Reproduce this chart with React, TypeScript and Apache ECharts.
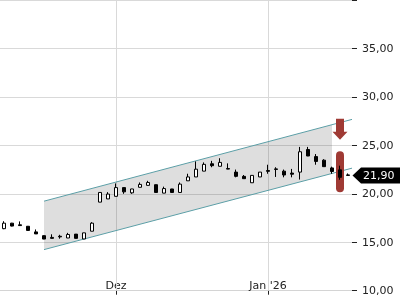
import React, { useEffect, useRef } from "react";
import * as echarts from "echarts";

const dates = [
  "2025-11-11", "2025-11-12", "2025-11-13", "2025-11-14", "2025-11-17", "2025-11-18", "2025-11-19",
  "2025-11-20", "2025-11-21", "2025-11-24", "2025-11-25", "2025-11-26", "2025-11-27", "2025-11-28",
  "2025-12-01", "2025-12-02", "2025-12-03", "2025-12-04", "2025-12-05", "2025-12-08", "2025-12-09",
  "2025-12-10", "2025-12-11", "2025-12-12", "2025-12-15", "2025-12-16", "2025-12-17", "2025-12-18",
  "2025-12-19", "2025-12-22", "2025-12-23", "2025-12-29", "2025-12-30", "2026-01-02", "2026-01-05",
  "2026-01-06", "2026-01-07", "2026-01-08", "2026-01-09", "2026-01-12", "2026-01-13", "2026-01-14",
  "2026-01-15", "2026-01-16",
];

const tickLabels: Record<string, string> = { "2025-12-01": "Dez", "2026-01-02": "Jan '26" };

const opens = [
  16.4, 16.97, 16.8, 16.65, 16.07, 15.68, 15.5, 15.62, 15.44, 15.84, 15.34, 16.14, 19.14, 19.47,
  19.74, 20.64, 20.1, 20.67, 20.87, 20.94, 20.07, 20.5, 20.14, 21.34, 21.74, 22.34, 23.1, 22.84,
  22.6, 22.24, 21.8, 21.14, 21.74, 22.4, 22.57, 22.34, 22.14, 22.24, 24.57, 23.84, 23.47, 22.67,
  22.47, 21.95,
];
const closes = [
  16.97, 16.67, 16.72, 16.22, 15.86, 15.33, 15.4, 15.55, 15.8, 15.4, 15.97, 16.97, 20.14, 19.97,
  20.64, 20.2, 20.5, 20.97, 21.17, 20.14, 20.54, 20.14, 21.0, 21.74, 22.54, 23.04, 22.9, 23.24,
  22.55, 21.8, 21.56, 21.9, 22.24, 22.32, 22.52, 21.94, 22.02, 24.34, 23.9, 23.34, 22.8, 22.3,
  21.7, 21.9,
];
const lows = [
  16.35, 16.64, 16.68, 16.2, 15.85, 15.32, 15.38, 15.37, 15.43, 15.39, 15.33, 16.13, 19.13, 19.46,
  19.73, 20.0, 20.0, 20.66, 20.86, 20.13, 20.06, 20.13, 20.13, 21.33, 21.73, 22.33, 22.74, 22.83,
  22.54, 21.7, 21.55, 21.13, 21.73, 22.07, 21.74, 21.7, 21.7, 21.47, 23.89, 23.0, 22.79, 22.07,
  21.45, 21.88,
];
const highs = [
  17.17, 17.0, 17.15, 16.67, 16.32, 15.7, 15.82, 15.77, 15.97, 15.85, 15.98, 17.07, 20.15, 20.17,
  21.07, 20.65, 20.51, 21.17, 21.34, 20.95, 20.74, 20.51, 21.17, 22.07, 23.34, 23.24, 23.4, 23.67,
  23.14, 22.5, 21.94, 21.91, 22.25, 23.0, 22.74, 22.5, 22.57, 24.84, 24.84, 24.1, 23.57, 22.8,
  22.9, 22.1,
];

const yTicks = [10, 15, 20, 25, 30, 35];

const channelStart = { date: "2025-11-18", upper: 19.24, lower: 14.24 };
const channelEnd = { date: "2026-01-14", upper: 27.13, lower: 22.1 };

const signalDate = "2026-01-15";
const signalBarRange = [20.17, 24.4];
const signalArrowTip = 25.57;
const lastPrice = 21.9;

const FONT = "DejaVu Sans";
const RED = "#9f3a34";
const TEAL = "#5b9ea6";
const GRID = "#d9d9d9";

const fmt = (v: number) => v.toFixed(2).replace(".", ",");

export default function App() {
  const ref = useRef<HTMLDivElement>(null);

  useEffect(() => {
    if (!ref.current) return;
    const chart = echarts.init(ref.current, undefined, { renderer: "svg" });
    const candleData = dates.map((_, i) => [opens[i], closes[i], lows[i], highs[i]]);
    const tickIdx = dates.map((d, i) => (tickLabels[d] ? i : -1)).filter((i) => i >= 0);
    const isTick = (i: number) => tickIdx.indexOf(i) >= 0;
    const sigIdx = dates.indexOf(signalDate);

    chart.setOption({
      animation: false,
      grid: { left: 0, right: 48, top: -9.3, bottom: 9.3 },
      xAxis: {
        type: "category",
        data: dates,
        boundaryGap: true,
        axisLine: { show: true, lineStyle: { color: "#d4d4d4", width: 1 } },
        axisTick: {
          show: true,
          inside: false,
          length: 4,
          alignWithLabel: true,
          interval: (i: number) => isTick(i),
          lineStyle: { color: "#222" },
        },
        axisLabel: {
          inside: true,
          margin: 0,
          interval: (i: number) => isTick(i),
          formatter: (d: string) => tickLabels[d] || "",
          color: "#222",
          fontFamily: FONT,
          fontSize: 11,
        },
        splitLine: { show: false },
      },
      yAxis: {
        type: "value",
        position: "right",
        min: 10,
        max: 40,
        interval: 5,
        axisLine: { show: false },
        axisTick: { show: true, length: 5, lineStyle: { color: "#222" } },
        axisLabel: {
          margin: 10,
          color: "#222",
          fontFamily: FONT,
          fontSize: 11,
          formatter: (v: number) => (yTicks.indexOf(v) >= 0 ? fmt(v) : ""),
        },
        splitLine: { show: true, lineStyle: { color: GRID, width: 1 } },
      },
      series: [
        {
          type: "custom",
          z: 1,
          silent: true,
          clip: false,
          data: [[0, 0]],
          renderItem: (params: any, api: any) => {
            const cs = params.coordSys;
            const xr = cs.x + cs.width;
            const vLines = tickIdx.map((i) => {
              const x = Math.round(api.coord([i, 20])[0]) + 0.5;
              return {
                type: "line",
                shape: { x1: x, y1: cs.y, x2: x, y2: cs.y + cs.height },
                style: { stroke: GRID, lineWidth: 1 },
              };
            });
            const i0 = dates.indexOf(channelStart.date);
            const i1 = dates.indexOf(channelEnd.date);
            const pu0 = api.coord([i0, channelStart.upper]);
            const pl0 = api.coord([i0, channelStart.lower]);
            const pu1 = api.coord([i1, channelEnd.upper]);
            const pl1 = api.coord([i1, channelEnd.lower]);
            const ext = (a: number[], b: number[]) => [xr, a[1] + ((b[1] - a[1]) * (xr - a[0])) / (b[0] - a[0])];
            const eu = ext(pu0, pu1);
            const el = ext(pl0, pl1);
            return {
              type: "group",
              children: [
                ...vLines,
                { type: "polygon", shape: { points: [pu0, pu1, pl1, pl0] }, style: { fill: "rgba(0,0,0,0.13)" } },
                { type: "line", shape: { x1: pu0[0], y1: pu0[1], x2: eu[0], y2: eu[1] }, style: { stroke: TEAL, lineWidth: 1 } },
                { type: "line", shape: { x1: pl0[0], y1: pl0[1], x2: el[0], y2: el[1] }, style: { stroke: TEAL, lineWidth: 1 } },
              ],
            };
          },
        },
        {
          type: "custom",
          z: 2,
          silent: true,
          clip: false,
          data: [[sigIdx, signalBarRange[1]]],
          renderItem: (params: any, api: any) => {
            const top = api.coord([sigIdx, signalBarRange[1]]);
            const bot = api.coord([sigIdx, signalBarRange[0]]);
            return {
              type: "rect",
              shape: { x: top[0] - 4, y: top[1], width: 8, height: bot[1] - top[1], r: 4 },
              style: { fill: RED },
            };
          },
        },
        {
          type: "candlestick",
          z: 3,
          data: candleData,
          barWidth: 4,
          silent: true,
          itemStyle: {
            color: "#ffffff",
            color0: "#000000",
            borderColor: "#000000",
            borderColor0: "#000000",
            borderWidth: 1,
          },
        },
        {
          type: "custom",
          z: 4,
          silent: true,
          clip: false,
          data: [[sigIdx, signalArrowTip]],
          renderItem: (params: any, api: any) => {
            const tip = api.coord([sigIdx, signalArrowTip]);
            const x = tip[0];
            const y = tip[1];
            return {
              type: "polygon",
              shape: {
                points: [
                  [x - 4, y - 21],
                  [x + 4, y - 21],
                  [x + 4, y - 8],
                  [x + 7.5, y - 8],
                  [x, y],
                  [x - 7.5, y - 8],
                  [x - 4, y - 8],
                ],
              },
              style: { fill: RED },
            };
          },
        },
        {
          type: "custom",
          z: 5,
          silent: true,
          clip: false,
          data: [[dates.length - 1, lastPrice]],
          renderItem: (params: any, api: any) => {
            const p = api.coord([dates.length - 1, lastPrice]);
            const cs = params.coordSys;
            const xr = cs.x + cs.width;
            const y = p[1];
            const w = api.getWidth();
            return {
              type: "group",
              children: [
                {
                  type: "polygon",
                  shape: {
                    points: [
                      [xr + 0.5, y],
                      [xr + 9, y - 8],
                      [w, y - 8],
                      [w, y + 8],
                      [xr + 9, y + 8],
                    ],
                  },
                  style: { fill: "#000" },
                },
                {
                  type: "text",
                  x: xr + 11,
                  y: y,
                  style: {
                    text: fmt(lastPrice),
                    fill: "#fff",
                    font: `11px "${FONT}"`,
                    verticalAlign: "middle",
                    align: "left",
                  },
                },
              ],
            };
          },
        },
      ],
    });
    return () => chart.dispose();
  }, []);

  return <div ref={ref} style={{ position: "fixed", left: 0, top: 0, width: 400, height: 300 }} />;
}
